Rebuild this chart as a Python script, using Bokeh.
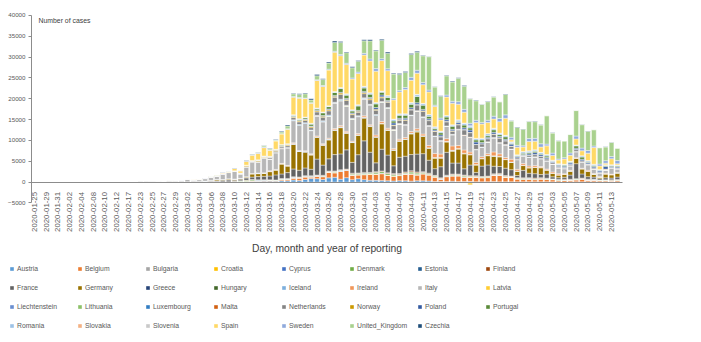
import numpy as np
from bokeh.plotting import figure
from bokeh.models import (ColumnDataSource, Range1d, FixedTicker, Legend, LegendItem,
                          Label, LinearAxis)
from bokeh.embed import file_html
from bokeh.resources import INLINE

# ---------------- categories (date of reporting) ----------------
dates = [
    "2020-01-25", "2020-01-27", "2020-01-29", "2020-01-30", "2020-01-31", "2020-02-01", "2020-02-02", "2020-02-03", "2020-02-04", "2020-02-07",
    "2020-02-08", "2020-02-09", "2020-02-10", "2020-02-11", "2020-02-12", "2020-02-14", "2020-02-17", "2020-02-21", "2020-02-23", "2020-02-24",
    "2020-02-25", "2020-02-26", "2020-02-27", "2020-02-28", "2020-02-29",
    "2020-03-01", "2020-03-02", "2020-03-03", "2020-03-04", "2020-03-05", "2020-03-06", "2020-03-07", "2020-03-08", "2020-03-09", "2020-03-10",
    "2020-03-11", "2020-03-12", "2020-03-13", "2020-03-14", "2020-03-15", "2020-03-16", "2020-03-17", "2020-03-18", "2020-03-19", "2020-03-20",
    "2020-03-21", "2020-03-22", "2020-03-23", "2020-03-24", "2020-03-25", "2020-03-26", "2020-03-27", "2020-03-28", "2020-03-29", "2020-03-30", "2020-03-31",
    "2020-04-01", "2020-04-02", "2020-04-03", "2020-04-04", "2020-04-05", "2020-04-06", "2020-04-07", "2020-04-08", "2020-04-09", "2020-04-10",
    "2020-04-11", "2020-04-12", "2020-04-13", "2020-04-14", "2020-04-15", "2020-04-16", "2020-04-17", "2020-04-18", "2020-04-19", "2020-04-20",
    "2020-04-21", "2020-04-22", "2020-04-23", "2020-04-24", "2020-04-25", "2020-04-26", "2020-04-27", "2020-04-28", "2020-04-29", "2020-04-30",
    "2020-05-01", "2020-05-02", "2020-05-03", "2020-05-04", "2020-05-05", "2020-05-06", "2020-05-07", "2020-05-08", "2020-05-09", "2020-05-10",
    "2020-05-11", "2020-05-12", "2020-05-13", "2020-05-14",
]

# ---------------- daily cases per country (01-25..02-29) + (03-01..05-14) ----------------
Austria = [0,0,0,0,0,0,0,0,0,0, 0,0,0,0,0,0,0,0,0,0, 2,0,3,3,1] + [
    5,4,8,11,17,14,26,25,20,51,
    64,60,116,154,152,205,158,314,314,468,
    375,595,855,796,606,1000,1141,668,1051,564,805,
    564,418,396,332,314,241,329,303,210,312,
    293,247,110,106,101,178,124,112,91,83,
    63,79,107,70,59,78,46,49,75,58,
    40,68,44,45,28,48,63,41,35,45,54,36,25,51]
Belgium = [0,0,0,0,0,0,0,0,1,0, 0,0,0,0,0,0,0,0,0,0, 0,0,0,0,0] + [
    0,6,5,10,27,59,60,31,39,28,
    47,85,160,133,197,172,185,243,309,462,
    558,586,342,526,668,1298,1049,1850,1702,1063,876,
    1189,1384,1422,1661,1260,1123,1209,1580,1684,1351,
    1629,1420,1068,530,1172,1236,1329,1054,1045,1052,
    933,973,1487,1496,1032,1020,661,553,599,490,
    660,514,505,361,323,356,451,639,370,395,264,256,203,299]
Bulgaria = [0,0,0,0,0,0,0,0,0,0, 0,0,0,0,0,0,0,0,0,0, 0,0,0,0,0] + [
    0,0,0,0,0,0,0,4,0,2,
    0,1,16,8,10,10,11,20,30,17,
    15,38,25,5,14,36,45,22,27,27,40,
    25,14,45,22,10,39,28,16,13,16,
    43,43,33,19,29,69,44,47,32,57,
    61,38,64,103,74,52,48,71,72,37,
    43,47,30,24,32,39,41,44,54,30,56,75,49,36]
Croatia = [0,0,0,0,0,0,0,0,0,0, 0,0,0,0,0,0,0,0,0,0, 1,2,0,0,0] + [
    2,1,0,0,1,1,0,1,1,0,
    1,5,5,5,11,21,6,14,7,96,
    78,100,48,71,60,55,91,71,56,77,57,
    76,96,71,52,70,92,37,31,69,96,
    58,46,30,20,33,44,40,62,46,25,
    20,65,36,47,34,26,14,12,10,17,
    18,16,16,1,6,9,11,20,7,11,6,5,9,5]
Cyprus = [0,0,0,0,0,0,0,0,0,0, 0,0,0,0,0,0,0,0,0,0, 0,0,0,0,0] + [
    0,0,0,0,0,0,0,0,0,2,
    1,3,3,8,12,6,21,12,9,27,
    8,11,19,21,11,5,26,21,17,11,19,
    17,58,32,12,40,20,19,50,25,41,
    40,27,15,21,18,13,16,11,9,11,
    10,11,11,11,5,6,5,4,7,6,
    5,6,1,3,4,3,4,5,4,3,2,2,2,5]
Denmark = [0,0,0,0,0,0,0,0,0,0, 0,0,0,0,0,0,0,0,0,0, 0,0,0,1,0] + [
    2,1,1,4,5,11,2,7,3,65,
    172,252,240,47,66,37,77,121,84,83,
    112,80,122,151,132,153,190,185,139,230,283,
    244,233,371,390,320,292,200,204,390,331,
    233,184,177,178,144,197,170,229,166,142,
    145,134,123,155,151,123,172,153,155,159,
    139,142,114,163,101,106,130,93,133,141,82,87,139,120]
Estonia = [0,0,0,0,0,0,0,0,0,0, 0,0,0,0,0,0,0,0,0,0, 0,0,0,1,0] + [
    0,1,0,0,1,1,5,5,1,0,
    6,0,0,111,9,30,26,33,12,25,
    16,23,24,26,34,15,44,39,34,36,27,
    36,21,34,47,43,58,48,43,57,59,
    43,42,69,20,41,42,56,20,21,23,
    27,24,45,18,22,15,14,32,22,15,
    18,23,5,6,3,10,7,13,5,7,3,6,3,7]
Finland = [0,0,1,0,0,0,0,0,0,0, 0,0,0,0,0,0,0,0,0,0, 0,1,0,0,1] + [
    0,1,0,4,4,5,4,8,0,10,
    19,51,47,46,81,33,12,86,90,92,
    52,95,72,74,88,80,76,89,82,114,75,
    160,76,117,139,149,158,164,194,260,214,
    131,120,91,104,110,145,134,144,107,130,
    66,101,97,173,174,107,84,126,99,166,
    112,98,32,27,155,94,101,86,80,42,26,52,105,66]
France = [3,0,1,0,1,1,0,0,0,0, 5,0,0,0,0,1,0,0,0,0, 2,2,3,20,19] + [
    43,30,61,21,73,138,190,336,400,286,
    372,497,595,785,838,924,1210,1097,1404,1861,
    1617,1847,1559,3838,2446,2931,3922,3809,4611,2599,4376,
    7578,4861,2116,5233,4267,1873,3912,3777,3881,4286,
    4342,3114,1613,2673,5497,2633,2641,1500,2569,785,
    2489,2667,1827,1653,1773,1537,525,1797,1061,1050,
    758,1000,500,400,500,1000,3600,1000,600,500,300,500,400,600]
Germany = [0,1,3,0,1,1,2,2,2,0, 1,0,2,0,0,0,0,0,0,0, 0,2,18,10,26] + [
    40,18,28,39,66,138,284,163,300,237,
    157,271,802,693,733,1043,1174,2400,1600,5900,
    4500,3800,3400,5200,4764,4540,5780,6294,3965,4751,4615,
    5453,6156,6174,6082,5936,3677,3834,4003,4974,5323,
    4133,2821,2537,2082,2486,2866,3380,3609,2458,1775,
    1785,2237,2352,2337,2055,1737,1018,1144,1304,1478,
    1639,945,793,679,685,947,1284,1209,1251,667,357,933,798,933]
Greece = [0,0,0,0,0,0,0,0,0,0, 0,0,0,0,0,0,0,0,0,0, 0,0,1,2,0] + [
    4,0,1,3,12,1,13,13,0,16,
    10,28,9,127,38,51,21,33,31,77,
    31,94,95,71,52,47,72,71,95,56,73,
    102,58,37,55,41,76,28,36,42,60,
    13,14,21,21,22,25,11,19,38,21,
    11,13,26,17,16,12,12,27,21,16,
    16,3,10,5,10,25,13,26,12,19,7,6,21,9]
Hungary = [0,0,0,0,0,0,0,0,0,0, 0,0,0,0,0,0,0,0,0,0, 0,0,0,0,0] + [
    0,0,0,0,2,2,0,1,2,2,
    3,3,3,6,2,7,11,11,8,35,
    18,20,36,20,39,40,34,58,42,35,39,
    45,60,38,61,34,60,73,78,85,165,
    114,111,83,80,78,112,104,111,107,87,
    67,65,107,96,70,60,58,48,42,60,
    38,62,31,30,44,37,27,39,37,35,21,15,45,35]
Iceland = [0,0,0,0,0,0,0,0,0,0, 0,0,0,0,0,0,0,0,0,0, 0,0,0,0,1] + [
    1,1,4,10,9,9,19,2,5,17,
    20,21,6,19,8,56,60,23,24,79,
    79,95,55,60,89,101,103,68,77,38,62,
    78,99,46,36,44,34,46,18,59,42,
    15,14,33,27,29,46,12,3,4,3,
    13,11,5,8,3,3,3,7,0,6,
    7,0,0,1,0,2,0,1,0,2,2,4,3,0]
Ireland = [0,0,0,0,0,0,0,0,0,0, 0,0,0,0,0,0,0,0,0,0, 0,0,0,0,1] + [
    1,0,0,1,2,7,5,1,2,3,
    10,9,27,20,39,90,54,69,74,191,
    126,102,121,219,204,235,255,302,294,200,295,
    325,212,402,424,390,331,370,345,365,500,
    430,553,992,832,657,1068,724,778,493,520,
    401,388,936,577,420,701,377,394,386,376,
    221,197,330,265,85,135,107,100,236,159,116,139,92,107]
Italy = [0,0,0,0,2,0,0,0,0,1, 0,0,0,0,0,0,0,3,62,53, 97,93,78,250,238] + [
    240,561,347,466,587,769,778,1247,1492,1797,
    977,2313,2651,2547,3497,2823,4000,3526,4207,5322,
    5986,6557,5560,4789,5249,5210,6153,5959,5974,5217,4050,
    4053,4782,4668,4585,4805,4316,3599,3039,3836,4204,
    3951,4694,4092,3153,2972,2667,3786,3493,3491,3047,
    2256,2729,3370,2646,3021,2357,2324,1739,2091,2086,
    1872,1965,1900,1389,1221,1075,1444,1401,1327,1083,802,744,1402,888]
Latvia = [0,0,0,0,0,0,0,0,0,0, 0,0,0,0,0,0,0,0,0,0, 0,0,0,0,0] + [
    0,1,0,0,0,0,0,1,0,3,
    2,7,0,8,6,8,10,25,11,25,
    25,13,41,16,24,24,36,25,26,42,27,
    30,20,14,24,10,17,26,16,27,32,
    35,22,24,14,17,16,11,11,25,31,
    6,14,10,15,13,6,10,9,6,4,
    5,4,4,2,13,11,7,4,6,3,8,3,12,4]
Liechtenstein = [0,0,0,0,0,0,0,0,0,0, 0,0,0,0,0,0,0,0,0,0, 0,0,0,0,0] + [
    0,0,0,1,0,0,0,0,0,0,
    0,0,1,0,3,0,0,0,0,7,
    0,0,0,5,0,10,5,0,0,0,6,
    2,4,0,0,0,0,2,0,1,0,
    0,0,0,0,0,0,0,0,1,0,
    0,0,0,0,0,1,0,0,0,0,
    0,0,0,0,0,0,0,0,0,0,0,0,0,0]
Lithuania = [0,0,0,0,0,0,0,0,0,0, 0,0,0,0,0,0,0,0,0,0, 0,0,0,1,0] + [
    1,0,0,0,0,0,0,0,0,0,
    2,0,3,3,4,2,7,12,9,22,
    26,28,33,40,47,65,25,81,54,53,76,
    73,72,71,69,40,66,52,30,45,30,
    39,35,13,44,30,33,46,32,37,35,
    25,50,35,20,24,44,30,2,21,6,
    23,9,13,15,12,10,10,20,24,4,3,12,12,18]
Luxembourg = [0,0,0,0,0,0,0,0,0,0, 0,0,0,0,0,0,0,0,0,0, 0,0,0,0,1] + [
    0,1,0,0,1,1,0,1,1,1,
    5,12,7,14,8,26,61,38,62,132,
    189,128,90,77,176,223,120,267,209,185,94,
    149,51,145,71,136,102,62,56,52,70,
    100,45,60,34,35,61,48,26,38,15,
    16,40,28,13,24,20,9,14,13,18,
    17,8,5,7,11,9,5,8,3,6,3,5,5,6]
Malta = [0,0,0,0,0,0,0,0,0,0, 0,0,0,0,0,0,0,0,0,0, 0,0,0,0,0] + [
    0,0,0,0,0,0,3,0,0,3,
    3,0,3,9,6,9,7,6,16,16,
    3,19,17,17,11,10,10,12,15,4,7,
    13,14,9,20,6,24,9,13,12,12,
    6,12,5,8,5,10,9,9,8,14,
    11,13,2,12,10,14,3,6,9,4,
    9,4,3,6,15,8,3,6,3,1,3,4,5,6]
Netherlands = [0,0,0,0,0,0,0,0,0,0, 0,0,0,0,0,0,0,0,0,0, 0,0,0,1,6] + [
    8,6,6,14,44,46,60,77,56,61,
    121,111,190,155,176,278,292,346,409,534,
    637,573,545,811,852,1019,1172,1159,1104,884,845,
    1019,1083,1026,904,1224,952,777,969,1213,1335,
    1316,1174,1092,868,969,734,1061,1235,1066,1140,
    750,729,797,1066,887,655,400,171,386,514,
    475,445,335,232,199,232,455,319,155,250,244,196,108,199]
Norway = [0,0,0,0,0,0,0,0,0,0, 0,0,0,0,0,0,0,0,0,0, 0,0,1,0,5] + [
    4,2,7,14,27,30,23,64,21,66,
    90,256,118,276,111,118,228,168,220,211,
    225,227,264,230,255,290,253,325,252,188,264,
    274,300,273,250,176,170,162,178,167,163,
    140,114,70,85,131,118,153,130,75,52,
    62,79,91,112,78,62,30,52,74,48,
    64,44,37,33,36,37,47,36,32,19,12,28,32,22]
Poland = [0,0,0,0,0,0,0,0,0,0, 0,0,0,0,0,0,0,0,0,0, 0,0,0,0,0] + [
    0,0,0,1,0,4,0,6,6,5,
    9,18,20,35,43,31,27,80,49,103,
    111,99,115,152,150,170,195,170,249,224,193,
    256,243,392,437,244,475,311,357,370,380,
    336,318,268,401,380,336,368,370,545,545,
    263,313,381,285,316,460,263,217,307,443,
    380,308,193,304,316,356,307,345,330,317,271,595,264,268]
Portugal = [0,0,0,0,0,0,0,0,0,0, 0,0,0,0,0,0,0,0,0,0, 0,0,0,0,0] + [
    0,2,0,2,1,4,4,8,9,11,
    18,19,34,57,76,86,117,194,143,235,
    260,320,460,302,633,549,724,902,792,446,1035,
    808,783,852,638,754,452,712,699,815,1516,
    1024,598,349,514,643,750,181,663,521,516,
    629,371,603,444,595,163,183,295,345,305,
    181,326,92,171,242,178,553,533,138,240,138,234,219,180]
Romania = [0,0,0,0,0,0,0,0,0,0, 0,0,0,0,0,0,0,0,0,0, 0,0,1,0,2] + [
    0,0,0,1,1,3,2,2,2,10,
    15,4,31,19,44,40,25,65,31,69,
    95,65,143,186,144,124,123,186,263,270,254,
    316,290,250,255,350,365,303,302,332,413,
    359,430,353,328,352,310,455,441,438,356,
    362,443,330,353,356,346,218,373,365,369,
    364,332,238,190,226,231,220,327,325,288,231,190,187,218]
Slovakia = [0,0,0,0,0,0,0,0,0,0, 0,0,0,0,0,0,0,0,0,0, 0,0,0,0,0] + [
    0,0,0,0,0,0,1,2,0,2,
    2,0,10,11,11,9,35,25,9,56,
    14,50,36,28,43,12,9,34,31,23,44,
    67,37,66,35,63,86,36,33,73,72,
    49,14,60,62,29,13,28,32,61,34,
    62,46,51,8,8,15,8,5,8,8,
    3,5,5,7,1,1,5,5,3,2,10,2,2,1]
Slovenia = [0,0,0,0,0,0,0,0,0,0, 0,0,0,0,0,0,0,0,0,0, 0,0,0,0,0] + [
    0,0,0,0,3,4,2,5,3,3,
    17,28,40,41,76,70,28,22,50,19,
    40,31,44,61,48,57,70,48,52,24,46,
    46,41,54,42,26,20,32,29,38,31,
    25,16,22,11,20,28,38,33,14,16,
    6,12,15,14,6,20,4,7,14,4,
    12,9,6,3,2,7,6,4,3,0,1,2,6,4]
Spain = [0,0,0,0,0,1,0,0,0,0, 1,0,0,0,0,0,0,0,0,0, 4,5,3,13,20] + [
    39,36,45,57,37,59,125,158,125,557,
    500,869,1266,1522,2000,1438,1987,2538,3431,4200,
    4900,4450,4800,6600,6100,8578,9450,7630,7000,7380,7500,
    7500,7600,7500,7300,6000,4600,5250,5800,5330,5080,
    4480,5400,4850,2660,4400,5170,3720,2600,-700,3750,
    3380,2650,2200,2750,4090,500,1830,1100,2250,2060,
    1280,2100,1140,930,1250,1450,1440,1180,1750,4000,820,400,1450,300]
Sweden = [0,0,0,0,0,1,0,0,0,0, 0,0,0,0,0,0,0,0,0,0, 0,1,1,5,5] + [
    1,7,0,15,24,25,36,38,67,45,
    100,240,143,132,126,81,87,100,139,183,
    200,113,119,161,241,238,233,264,313,268,328,
    407,512,621,457,466,312,376,487,726,722,
    544,466,332,465,497,482,613,676,606,563,
    392,545,682,751,812,610,463,286,695,681,
    790,428,562,235,330,571,705,642,642,387,468,602,515,763]
United_Kingdom = [0,0,0,0,2,0,0,0,0,1, 1,0,4,1,0,0,0,0,0,0, 0,0,3,3,4] + [
    12,4,13,4,34,30,48,43,67,48,
    52,83,134,117,300,251,152,407,676,643,
    714,1035,665,967,1427,1452,2129,2885,2546,2433,2619,
    3009,4324,4244,4450,3735,5903,3802,3634,5491,4344,
    6400,8000,4342,5252,4603,4617,5599,5525,5850,4676,
    4301,4451,4583,4000,4913,3900,4309,3996,4076,4000,
    4500,6800,4806,4339,3985,4406,6111,5614,4649,3896,3923,3300,3403,2950]
Czechia = [0,0,0,0,0,0,0,0,0,0, 0,0,0,0,0,0,0,0,0,0, 0,0,0,0,0] + [
    0,3,2,0,1,7,11,7,6,10,
    38,31,24,39,80,115,108,143,228,153,
    212,175,297,279,187,241,325,282,188,223,160,
    266,257,179,235,262,190,285,215,254,230,
    133,80,108,125,150,172,153,186,46,160,
    94,79,80,55,98,54,70,60,82,100,
    47,34,52,29,29,42,38,53,30,28,24,24,59,37]

countries = ["Austria", "Belgium", "Bulgaria", "Croatia", "Cyprus", "Denmark", "Estonia", "Finland",
             "France", "Germany", "Greece", "Hungary", "Iceland", "Ireland", "Italy", "Latvia",
             "Liechtenstein", "Lithuania", "Luxembourg", "Malta", "Netherlands", "Norway", "Poland", "Portugal",
             "Romania", "Slovakia", "Slovenia", "Spain", "Sweden", "United_Kingdom", "Czechia"]
series = [Austria, Belgium, Bulgaria, Croatia, Cyprus, Denmark, Estonia, Finland,
          France, Germany, Greece, Hungary, Iceland, Ireland, Italy, Latvia,
          Liechtenstein, Lithuania, Luxembourg, Malta, Netherlands, Norway, Poland, Portugal,
          Romania, Slovakia, Slovenia, Spain, Sweden, United_Kingdom, Czechia]
colors = ["#5B9BD5", "#ED7D31", "#A5A5A5", "#FFC000", "#4472C4", "#70AD47", "#255E91", "#9E480E",
          "#636363", "#997300", "#264478", "#43682B", "#7CAFDD", "#F1975A", "#B7B7B7", "#FFCD33",
          "#698ED0", "#8CC168", "#327DC2", "#D26012", "#848484", "#CC9A00", "#335AA1", "#5A8A39",
          "#9DC3E6", "#F4B183", "#C9C9C9", "#FFD966", "#8FAADC", "#A9D18E", "#1F4E79"]

for nm, s in zip(countries, series):
    assert len(s) == len(dates), (nm, len(s))

FONT = "Liberation Sans"
TXT = "#595959"
W, H = 701, 342

# Frame covers the whole canvas; the axes sit at fixed positions inside it.
PX_PER_CAT = 5.89          # horizontal pixels per category
X0_PX = 33.8               # pixel centre of the first category
Y0_PX = 181.5              # pixel row of value 0
CASES_PER_PX = 240.24      # vertical scale
x_start = -X0_PX / PX_PER_CAT
x_end = (W - X0_PX) / PX_PER_CAT
y_end = Y0_PX * CASES_PER_PX
y_start = -(H - Y0_PX) * CASES_PER_PX
axis_x = (31 - X0_PX) / PX_PER_CAT
axis_x_end = (622 - X0_PX) / PX_PER_CAT

p = figure(width=W, height=H, output_backend="svg", toolbar_location=None,
           x_range=Range1d(x_start, x_end), y_range=Range1d(y_start, y_end),
           x_axis_location=None, y_axis_location=None,
           min_border_left=0, min_border_right=0, min_border_top=0, min_border_bottom=0)
p.outline_line_color = None
p.xgrid.visible = False
p.ygrid.visible = False
p.background_fill_color = "white"
p.border_fill_color = "white"

x_all = np.arange(len(dates))
pos_base = np.zeros(len(dates))
neg_base = np.zeros(len(dates))
items = []
for nm, s, col in zip(countries, series, colors):
    v = np.array(s, dtype=float)
    bottom = np.where(v >= 0, pos_base, neg_base + v)
    top = np.where(v >= 0, pos_base + v, neg_base)
    pos_base = pos_base + np.where(v > 0, v, 0)
    neg_base = neg_base + np.where(v < 0, v, 0)
    m = v != 0
    src = ColumnDataSource(dict(x=x_all[m], bottom=bottom[m], top=top[m]))
    r = p.vbar(x="x", bottom="bottom", top="top", width=0.8, source=src,
               fill_color=col, line_color="white", line_width=0.4)
    items.append(LegendItem(label=nm, renderers=[r]))

# y axis (fixed at the left edge of the plot area)
yax = LinearAxis(ticker=FixedTicker(ticks=list(range(-5000, 40001, 5000))),
                 fixed_location=axis_x, bounds=(-5000, 40000))
yax.axis_line_color = "#8C8C8C"
yax.major_tick_line_color = "#8C8C8C"
yax.major_tick_out = 3
yax.major_tick_in = 0
yax.minor_tick_line_color = None
yax.major_label_text_font = FONT
yax.major_label_text_font_size = "6.2px"
yax.major_label_text_color = TXT
yax.major_label_standoff = 3
p.add_layout(yax, "left")

# x axis crossing at zero
tick_idx = list(range(0, len(dates), 2))
xax = LinearAxis(ticker=FixedTicker(ticks=tick_idx),
                 major_label_overrides={i: dates[i] for i in tick_idx},
                 fixed_location=0, bounds=(axis_x, axis_x_end))
xax.major_label_orientation = np.pi / 2
xax.axis_line_color = "#8C8C8C"
xax.major_tick_line_color = None
xax.minor_tick_line_color = None
xax.major_label_text_font = FONT
xax.major_label_text_font_size = "7.8px"
xax.major_label_text_color = TXT
xax.major_label_standoff = 4
xax.axis_label = "Day, month and year of reporting"
xax.axis_label_text_font = FONT
xax.axis_label_text_font_size = "10.3px"
xax.axis_label_text_font_style = "normal"
xax.axis_label_text_color = "#404040"
xax.axis_label_standoff = 8
p.add_layout(xax, "below")

p.add_layout(Label(x=0.7, y=38800, text="Number of cases", text_font=FONT,
                   text_font_size="6.9px", text_color="#404040", text_baseline="middle"))

legend = Legend(items=items, location=(9, 7), ncols=8, orientation="horizontal",
                glyph_width=5, glyph_height=5, label_standoff=3, label_width=60, label_height=19,
                spacing=0, padding=0, margin=0,
                label_text_font=FONT, label_text_font_size="6.8px", label_text_color=TXT,
                border_line_color=None, background_fill_alpha=0)
p.add_layout(legend, "center")

open("out.html", "w").write(file_html(p, INLINE))
